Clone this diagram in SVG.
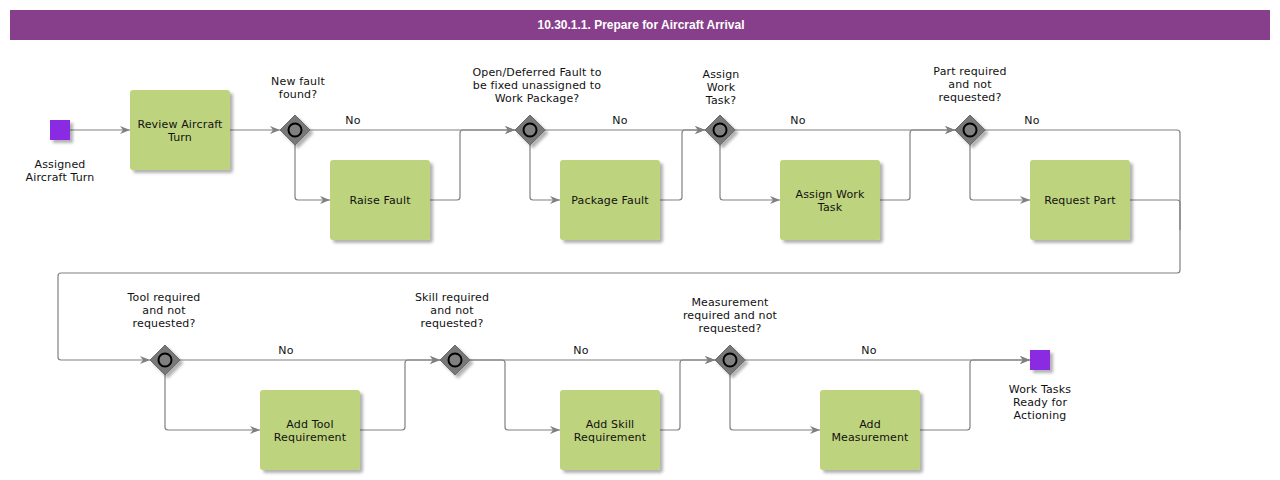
<svg xmlns="http://www.w3.org/2000/svg" width="1280" height="480" viewBox="0 0 1280 480">
<defs>
<style>
.t{font-family:"DejaVu Sans","Noto Sans",sans-serif;font-size:11px;letter-spacing:0.15px;fill:#111;text-anchor:middle}
.task{fill:#bed37e;filter:url(#sh)}
.ev{fill:#8a2be2;filter:url(#sh)}
.gw{fill:#787878;stroke:#6a6a6a;stroke-width:1;filter:url(#sh)}
.gc{fill:#808080;stroke:#000;stroke-width:2}
.c{fill:none;stroke:#808080;stroke-width:1.2;marker-end:url(#ah)}
.c2{fill:none;stroke:#808080;stroke-width:1.2}
</style>
<filter id="sh" x="-20%" y="-20%" width="150%" height="150%">
<feDropShadow dx="3" dy="3" stdDeviation="1.5" flood-color="#000" flood-opacity="0.3"/>
</filter>
<marker id="ah" viewBox="0 0 10 8" refX="10" refY="4" markerWidth="10" markerHeight="8" markerUnits="userSpaceOnUse" orient="auto">
<path d="M0,0 L10,4 L0,8 L3,4 z" fill="#808080"/>
</marker>
</defs>
<rect width="1280" height="480" fill="#fff"/>
<g id="title">
<rect x="10" y="10" width="1260" height="30" fill="#873f8b"/>
<text x="641" y="29" font-family="'Liberation Sans Narrow','Liberation Sans',Arial,sans-serif" font-weight="bold" font-size="13" fill="#fff" text-anchor="middle" textLength="207" lengthAdjust="spacingAndGlyphs">10.30.1.1. Prepare for Aircraft Arrival</text>
</g>
<g id="connectors">
<path class="c" d="M70,130 H130"/>
<path class="c" d="M230,130 H280"/>
<path class="c" d="M310,130 H515"/>
<path class="c" d="M295,145 V197 Q295,200 298,200 H330"/>
<path class="c" d="M430,200 H457 Q460,200 460,197 V133 Q460,130 463,130 H515"/>
<path class="c" d="M545,130 H705"/>
<path class="c" d="M530,145 V197 Q530,200 533,200 H560"/>
<path class="c" d="M660,200 H679 Q682,200 682,197 V133 Q682,130 685,130 H705"/>
<path class="c" d="M735,130 H955"/>
<path class="c" d="M720,145 V197 Q720,200 723,200 H780"/>
<path class="c" d="M880,200 H907 Q910,200 910,197 V133 Q910,130 913,130 H955"/>
<path class="c" d="M985,130 H1177 Q1180,130 1180,133 V270 Q1180,273 1177,273 H61 Q58,273 58,276 V357 Q58,360 61,360 H150"/>
<path class="c" d="M970,145 V197 Q970,200 973,200 H1030"/>
<path class="c2" d="M1130,200 H1177 Q1180,200 1180,203 V230"/>
<path class="c" d="M180,360 H440"/>
<path class="c" d="M165,375 V427 Q165,430 168,430 H260"/>
<path class="c" d="M360,430 H402 Q405,430 405,427 V363 Q405,360 408,360 H440"/>
<path class="c" d="M470,360 H715"/>
<path class="c" d="M470,360 H502 Q505,360 505,363 V427 Q505,430 508,430 H560"/>
<path class="c" d="M660,430 H677 Q680,430 680,427 V363 Q680,360 683,360 H715"/>
<path class="c" d="M745,360 H1030"/>
<path class="c" d="M730,375 V427 Q730,430 733,430 H820"/>
<path class="c" d="M920,430 H967 Q970,430 970,427 V363 Q970,360 973,360 H1030"/>
<text class="t" x="353" y="124">No</text>
<text class="t" x="620" y="124">No</text>
<text class="t" x="798" y="124">No</text>
<text class="t" x="1032" y="124">No</text>
<text class="t" x="286" y="354">No</text>
<text class="t" x="581" y="354">No</text>
<text class="t" x="869" y="354">No</text>
</g>
<g id="start">
<rect class="ev" x="50" y="120" width="20" height="20"/>
<text class="t" x="60" y="168">Assigned</text>
<text class="t" x="60" y="181">Aircraft Turn</text>
</g>
<g id="review">
<rect class="task" x="130" y="90" width="100" height="80" rx="3"/>
<text class="t" x="180" y="128">Review Aircraft</text>
<text class="t" x="180" y="141">Turn</text>
</g>
<g id="g1">
<path class="gw" d="M295,115 L310,130 L295,145 L280,130 z"/>
<circle class="gc" cx="295" cy="130" r="6.5"/>
<text class="t" x="298" y="85">New fault</text>
<text class="t" x="298" y="98">found?</text>
</g>
<g id="raise">
<rect class="task" x="330" y="160" width="100" height="80" rx="3"/>
<text class="t" x="380" y="204">Raise Fault</text>
</g>
<g id="g2">
<path class="gw" d="M530,115 L545,130 L530,145 L515,130 z"/>
<circle class="gc" cx="530" cy="130" r="6.5"/>
<text class="t" x="537" y="76">Open/Deferred Fault to</text>
<text class="t" x="537" y="89">be fixed unassigned to</text>
<text class="t" x="537" y="102">Work Package?</text>
</g>
<g id="package">
<rect class="task" x="560" y="160" width="100" height="80" rx="3"/>
<text class="t" x="610" y="204">Package Fault</text>
</g>
<g id="g3">
<path class="gw" d="M720,115 L735,130 L720,145 L705,130 z"/>
<circle class="gc" cx="720" cy="130" r="6.5"/>
<text class="t" x="721" y="78">Assign</text>
<text class="t" x="721" y="91">Work</text>
<text class="t" x="721" y="104">Task?</text>
</g>
<g id="assign">
<rect class="task" x="780" y="160" width="100" height="80" rx="3"/>
<text class="t" x="830" y="198">Assign Work</text>
<text class="t" x="830" y="211">Task</text>
</g>
<g id="g4">
<path class="gw" d="M970,115 L985,130 L970,145 L955,130 z"/>
<circle class="gc" cx="970" cy="130" r="6.5"/>
<text class="t" x="970" y="75">Part required</text>
<text class="t" x="970" y="88">and not</text>
<text class="t" x="970" y="101">requested?</text>
</g>
<g id="request">
<rect class="task" x="1030" y="160" width="100" height="80" rx="3"/>
<text class="t" x="1080" y="204">Request Part</text>
</g>
<g id="g5">
<path class="gw" d="M165,345 L180,360 L165,375 L150,360 z"/>
<circle class="gc" cx="165" cy="360" r="6.5"/>
<text class="t" x="164" y="301">Tool required</text>
<text class="t" x="164" y="314">and not</text>
<text class="t" x="164" y="327">requested?</text>
</g>
<g id="tool">
<rect class="task" x="260" y="390" width="100" height="80" rx="3"/>
<text class="t" x="310" y="428">Add Tool</text>
<text class="t" x="310" y="441">Requirement</text>
</g>
<g id="g6">
<path class="gw" d="M455,345 L470,360 L455,375 L440,360 z"/>
<circle class="gc" cx="455" cy="360" r="6.5"/>
<text class="t" x="452" y="301">Skill required</text>
<text class="t" x="452" y="314">and not</text>
<text class="t" x="452" y="327">requested?</text>
</g>
<g id="skill">
<rect class="task" x="560" y="390" width="100" height="80" rx="3"/>
<text class="t" x="610" y="428">Add Skill</text>
<text class="t" x="610" y="441">Requirement</text>
</g>
<g id="g7">
<path class="gw" d="M730,345 L745,360 L730,375 L715,360 z"/>
<circle class="gc" cx="730" cy="360" r="6.5"/>
<text class="t" x="730" y="306">Measurement</text>
<text class="t" x="730" y="319">required and not</text>
<text class="t" x="730" y="332">requested?</text>
</g>
<g id="measure">
<rect class="task" x="820" y="390" width="100" height="80" rx="3"/>
<text class="t" x="870" y="428">Add</text>
<text class="t" x="870" y="441">Measurement</text>
</g>
<g id="end">
<rect class="ev" x="1030" y="350" width="20" height="20"/>
<text class="t" x="1040" y="393">Work Tasks</text>
<text class="t" x="1040" y="406">Ready for</text>
<text class="t" x="1040" y="419">Actioning</text>
</g>
</svg>
